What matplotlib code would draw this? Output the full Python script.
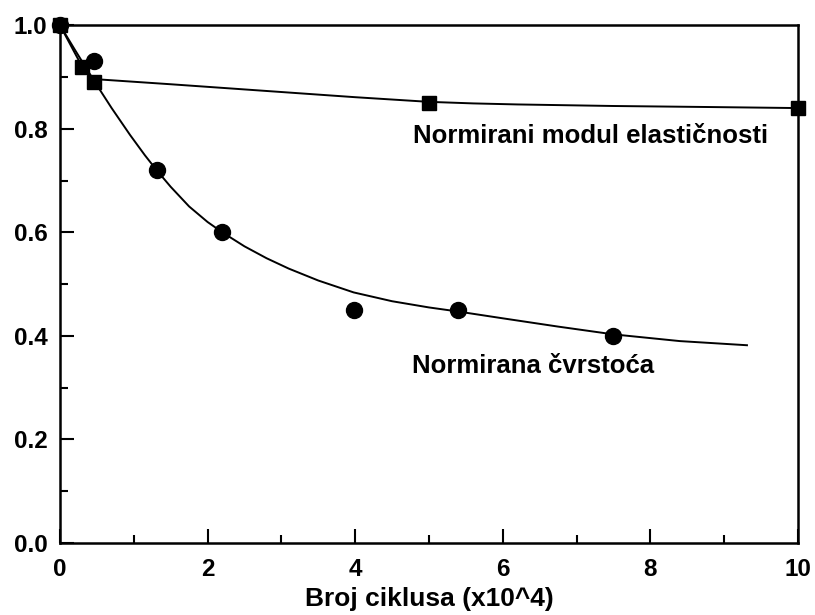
import matplotlib
matplotlib.use("Agg")
import matplotlib.pyplot as plt
from matplotlib.ticker import MultipleLocator

plt.rcParams['font.family'] = ['Liberation Sans', 'DejaVu Sans']
plt.rcParams['font.weight'] = 'bold'

# measured points
cvrst_x = [0, 0.46, 1.31, 2.2, 3.98, 5.4, 7.5]
cvrst_y = [1.0, 0.93, 0.72, 0.60, 0.45, 0.45, 0.40]
modul_x = [0, 0.3, 0.46, 5.0, 10.0]
modul_y = [1.0, 0.92, 0.89, 0.85, 0.84]

# fitted curves
fit_c_x = [0, 0.2, 0.46, 0.7, 0.95, 1.15, 1.31, 1.5, 1.75, 2.0, 2.2, 2.5, 2.8, 3.1, 3.5,
           3.98, 4.5, 5.0, 5.4, 6.0, 6.75, 7.5, 8.4, 9.31]
fit_c_y = [1.0, 0.953, 0.893, 0.840, 0.788, 0.749, 0.720, 0.688, 0.650, 0.620, 0.600, 0.573,
           0.550, 0.530, 0.507, 0.484, 0.467, 0.455, 0.447, 0.434, 0.418, 0.403, 0.390, 0.382]
fit_m_x = [0, 0.3, 0.46, 1.5, 2.7, 4.0, 5.0, 5.6, 6.2, 7.5, 8.8, 10.0]
fit_m_y = [1.0, 0.92, 0.896, 0.886, 0.874, 0.861, 0.852, 0.849, 0.847, 0.844, 0.842, 0.840]

fig = plt.figure(figsize=(8.15, 6.15), dpi=100)
ax = fig.add_axes([0.0736, 0.117, 0.979 - 0.0736, 0.959 - 0.117])

ax.plot(fit_c_x, fit_c_y, color='black', lw=1.4)
ax.plot(fit_m_x, fit_m_y, color='black', lw=1.4)
ax.plot(cvrst_x, cvrst_y, 'o', color='black', ms=11.5, clip_on=False)
ax.plot(modul_x, modul_y, 's', color='black', ms=10.5, clip_on=False)

ax.text(4.78, 0.773, 'Normirani modul elastičnosti', fontsize=18.5, fontweight='bold', va='baseline')
ax.text(4.77, 0.329, 'Normirana čvrstoća', fontsize=18.5, fontweight='bold', va='baseline')

ax.set_xlim(0, 10)
ax.set_ylim(0, 1.0)
ax.xaxis.set_major_locator(MultipleLocator(2))
ax.xaxis.set_minor_locator(MultipleLocator(1))
ax.yaxis.set_major_locator(MultipleLocator(0.2))
ax.yaxis.set_minor_locator(MultipleLocator(0.1))
ax.yaxis.set_major_formatter(plt.FormatStrFormatter('%.1f'))
ax.tick_params(which='major', direction='in', length=10, width=1.5, labelsize=17.5)
ax.tick_params(axis='x', which='major', pad=11)
ax.tick_params(axis='y', which='major', pad=9)
ax.tick_params(which='minor', direction='in', length=6, width=1.5)
for s in ax.spines.values():
    s.set_linewidth(1.8)
for lab in ax.get_xticklabels() + ax.get_yticklabels():
    lab.set_fontweight('bold')

ax.set_xlabel('Broj ciklusa (x10^4)', fontsize=19, fontweight='bold', labelpad=4)

fig.savefig('out.png', dpi=100)
